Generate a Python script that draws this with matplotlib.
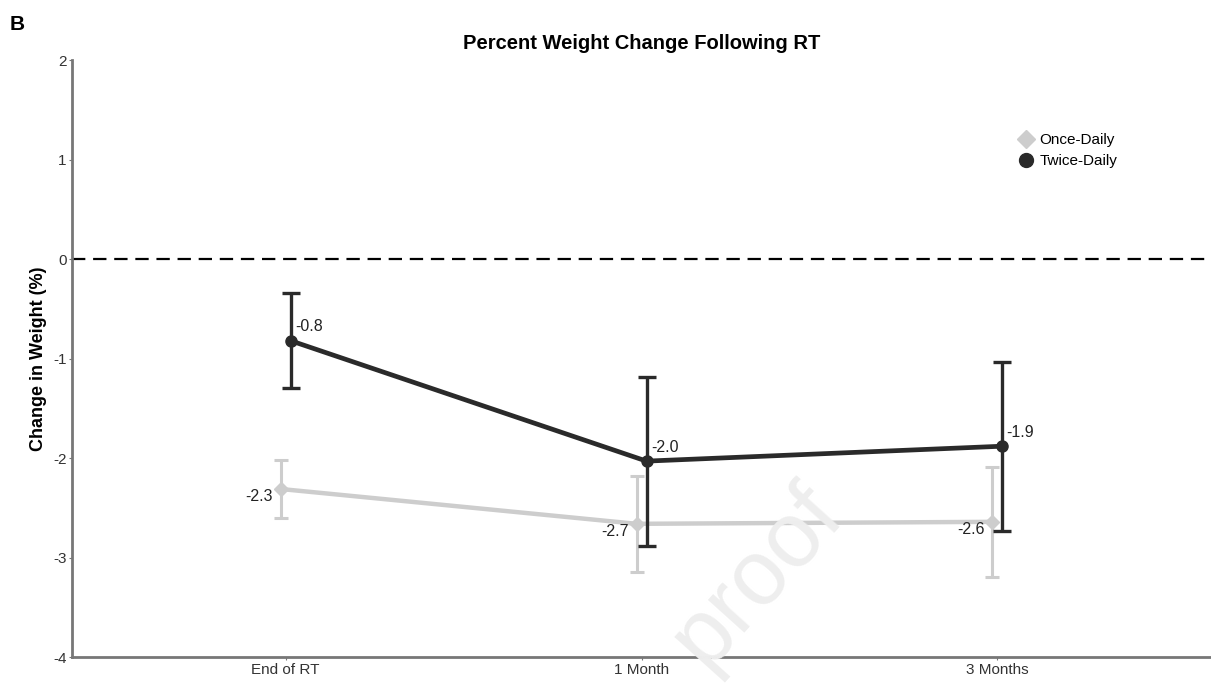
import matplotlib.pyplot as plt
from matplotlib.lines import Line2D
import numpy as np

plt.rcParams['font.family'] = ['Liberation Sans', 'DejaVu Sans']
plt.rcParams['axes.unicode_minus'] = False

timepoints = ["End of RT", "1 Month", "3 Months"]
once_mean = [-2.31, -2.66, -2.64]
once_err = [0.29, 0.48, 0.55]
twice_mean = [-0.82, -2.03, -1.88]
twice_err = [0.48, 0.85, 0.85]

once_color = "#cdcdcd"
twice_color = "#2a2a2a"

fig = plt.figure(figsize=(12.11, 6.86), dpi=100)
ax = fig.add_axes([0.0595, 0.042, 0.9405, 0.8705])

x = np.arange(len(timepoints))
dodge = 0.014

ax.axhline(0, color="black", lw=1.6, ls=(0, (6, 3.5)), zorder=1)

ax.errorbar(x - dodge, once_mean, yerr=once_err, color=once_color, lw=3.2,
            elinewidth=2.2, capsize=5, capthick=2.2, marker="D", ms=7,
            zorder=2)
ax.errorbar(x + dodge, twice_mean, yerr=twice_err, color=twice_color, lw=3.4,
            elinewidth=2.4, capsize=6.5, capthick=2.4, marker="o", ms=8,
            zorder=3)

for xi, v in zip(x, once_mean):
    ax.text(xi - dodge - 0.022, v - 0.08, f"{v:.1f}", ha="right", va="center",
            fontsize=11.5, color="#222222", zorder=4)
for xi, v in zip(x, twice_mean):
    ax.text(xi + dodge + 0.012, v + 0.14, f"{v:.1f}", ha="left", va="center",
            fontsize=11.5, color="#222222", zorder=4)

ax.set_xlim(-0.6, 2.6)
ax.set_ylim(-4, 2)
ax.set_xticks(x)
ax.set_xticklabels(timepoints)
ax.set_yticks([-4, -3, -2, -1, 0, 1, 2])
ax.tick_params(axis="both", length=2, width=0.8, colors="#777777",
               labelsize=11, labelcolor="#333333", pad=2)

for side in ["top", "right"]:
    ax.spines[side].set_visible(False)
for side in ["left", "bottom"]:
    ax.spines[side].set_color("#777777")
    ax.spines[side].set_linewidth(2)

ax.set_ylabel("Change in Weight (%)", fontsize=13, fontweight="bold", labelpad=4)
ax.set_title("Percent Weight Change Following RT", fontsize=14.5,
             fontweight="bold", pad=8)

handles = [
    Line2D([], [], ls="none", marker="D", ms=9, color=once_color),
    Line2D([], [], ls="none", marker="o", ms=10, color=twice_color),
]
ax.legend(handles, ["Once-Daily", "Twice-Daily"], loc="upper left",
          bbox_to_anchor=(0.82, 0.9), frameon=False, fontsize=11,
          handlelength=0.8, handletextpad=0.5, labelspacing=0.45)

fig.text(0.008, 0.965, "B", fontsize=15, fontweight="bold", va="center")

# faint diagonal watermark
fig.text(0.625, 0.16, "proof", fontsize=66, color="#eeeeee", rotation=48,
         ha="center", va="center", zorder=0)

fig.savefig("out.png", dpi=100)
